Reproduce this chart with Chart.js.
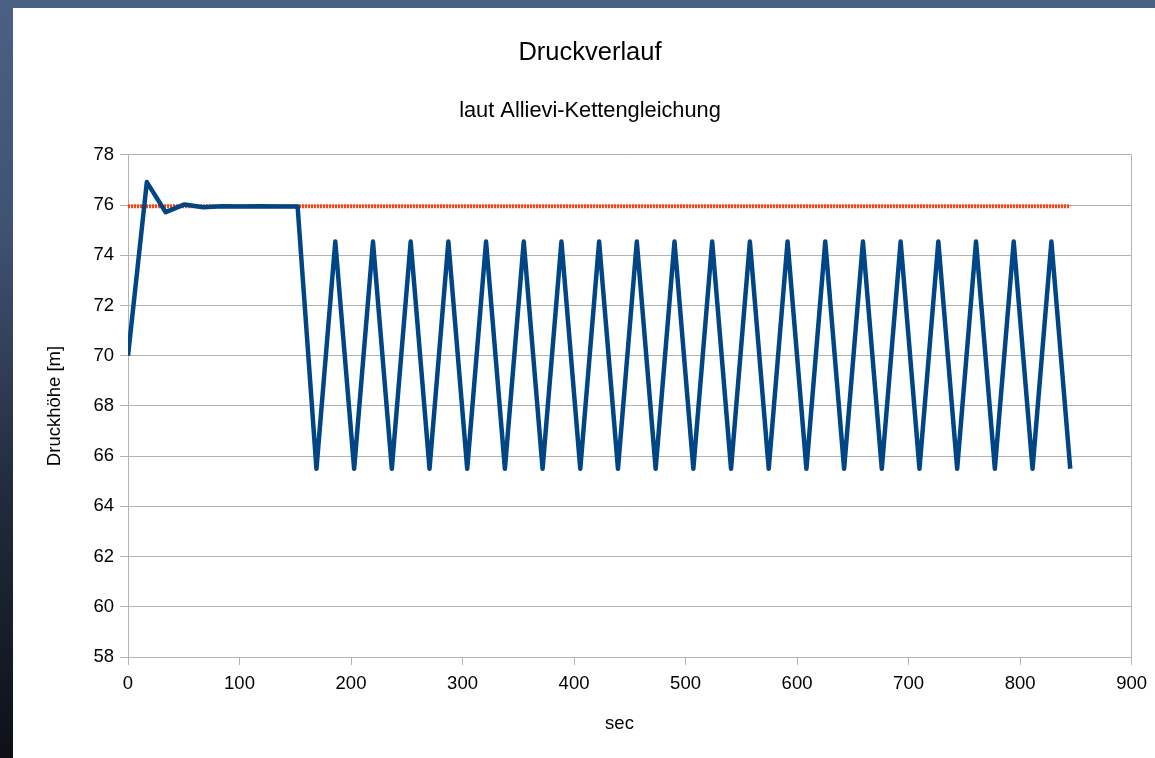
<!DOCTYPE html>
<html>
<head>
<meta charset="utf-8">
<script src="https://cdn.jsdelivr.net/npm/chart.js@4/dist/chart.umd.min.js"></script>
<style>
  html, body { margin: 0; padding: 0; }
  body {
    width: 1155px; height: 758px; overflow: hidden;
    background: linear-gradient(to bottom, #4b6085 0%, #405272 30%, #222b3d 65%, #0d1017 100%);
    position: relative;
  }
  #panel { position: absolute; left: 13px; top: 8px; width: 1142px; height: 750px; background: #fff; }
  canvas { display: block; }
</style>
</head>
<body>
<div id="panel"><canvas id="druckChart" width="1142" height="750"></canvas></div>
<script>
// Zeitpunkte [sec]
var zeiten = [0, 16.9, 33.8, 50.7, 67.6, 84.5, 101.4, 118.3, 135.2, 152.1,
    169, 185.9, 202.8, 219.7, 236.6, 253.5, 270.4, 287.3, 304.2, 321.1,
    338, 354.9, 371.8, 388.7, 405.6, 422.5, 439.4, 456.3, 473.2, 490.1,
    507, 523.9, 540.8, 557.7, 574.6, 591.5, 608.4, 625.3, 642.2, 659.1,
    676, 692.9, 709.8, 726.7, 743.6, 760.5, 777.4, 794.3, 811.2, 828.1, 845];
// Druckhöhe [m]
var druckhoehe = [70, 76.92, 75.72, 76.03, 75.92, 75.96, 75.95, 75.96, 75.95, 75.95,
    65.5, 74.55, 65.5, 74.55, 65.5, 74.55, 65.5, 74.55, 65.5, 74.55,
    65.5, 74.55, 65.5, 74.55, 65.5, 74.55, 65.5, 74.55, 65.5, 74.55,
    65.5, 74.55, 65.5, 74.55, 65.5, 74.55, 65.5, 74.55, 65.5, 74.55,
    65.5, 74.55, 65.5, 74.55, 65.5, 74.55, 65.5, 74.55, 65.5, 74.55, 65.5];
// Ruhedruckhöhe (gestrichelt)
var ruheZeiten = [0, 845];
var ruheDruck = [75.96, 75.96];
var xTicks = [0, 100, 200, 300, 400, 500, 600, 700, 800, 900];
var yTicks = [58, 60, 62, 64, 66, 68, 70, 72, 74, 76, 78];

function toPoints(xs, ys) {
    var pts = [];
    for (var i = 0; i < xs.length; i++) pts.push({ x: xs[i], y: ys[i] });
    return pts;
}

var gridGrey = '#b3b3b3';
var font = 'Liberation Sans, Arial, sans-serif';

var ctx = document.getElementById('druckChart').getContext('2d');
var chart = new Chart(ctx, {
    type: 'line',
    data: {
        datasets: [{
            label: 'Druckhöhe',
            data: toPoints(zeiten, druckhoehe),
            borderColor: '#004586',
            borderWidth: 4.5,
            borderJoinStyle: 'round',
            pointRadius: 0,
            tension: 0,
            fill: false
        },
        {
            label: 'Ruhedruck',
            data: toPoints(ruheZeiten, ruheDruck),
            borderColor: '#ff420e',
            borderWidth: 4,
            borderDash: [2, 1],
            pointRadius: 0,
            tension: 0,
            fill: false
        }]
    },
    options: {
        responsive: false,
        animation: false,
        devicePixelRatio: 1,
        layout: { padding: { left: 12, top: 0, right: 0, bottom: 0 } },
        plugins: {
            legend: { display: false },
            tooltip: { enabled: false },
            title: {
                display: true,
                text: 'Druckverlauf',
                color: '#000',
                font: { family: font, size: 25.5, weight: 'normal' },
                padding: { top: 29.7, bottom: 0 }
            },
            subtitle: {
                display: true,
                text: 'laut Allievi-Kettengleichung',
                color: '#000',
                font: { family: font, size: 21.8, weight: 'normal' },
                padding: { top: 29.6, bottom: 30.9 }
            }
        },
        scales: {
            x: {
                type: 'linear',
                min: 0,
                max: 900,
                afterBuildTicks: function (s) { s.ticks = xTicks.map(function (v) { return { value: v }; }); },
                afterFit: function (s) { s.height = 101; },
                ticks: { color: '#000', padding: 8, font: { family: font, size: 18.5 } },
                grid: {
                    color: function (c) { return c.tick && c.tick.value === 900 ? gridGrey : 'rgba(0,0,0,0)'; },
                    tickColor: gridGrey,
                    tickLength: 8
                },
                border: { color: gridGrey },
                title: {
                    display: true,
                    text: 'sec    ', // trailing spaces: label sits a bit left of centre
                    color: '#000',
                    font: { family: font, size: 18.5 },
                    padding: { top: 0, bottom: 22.9 }
                }
            },
            y: {
                min: 58,
                max: 78,
                afterBuildTicks: function (s) { s.ticks = yTicks.map(function (v) { return { value: v }; }); },
                afterFit: function (s) { s.width = 103; },
                ticks: { color: '#000', padding: 6, font: { family: font, size: 18.5 } },
                grid: { color: gridGrey, tickColor: gridGrey, tickLength: 8 },
                border: { color: gridGrey },
                title: {
                    display: true,
                    text: 'Druckhöhe [m]',
                    color: '#000',
                    font: { family: font, size: 18.5 },
                    padding: { top: 18.9, bottom: 0 }
                }
            }
        }
    }
});
</script>
</body>
</html>
